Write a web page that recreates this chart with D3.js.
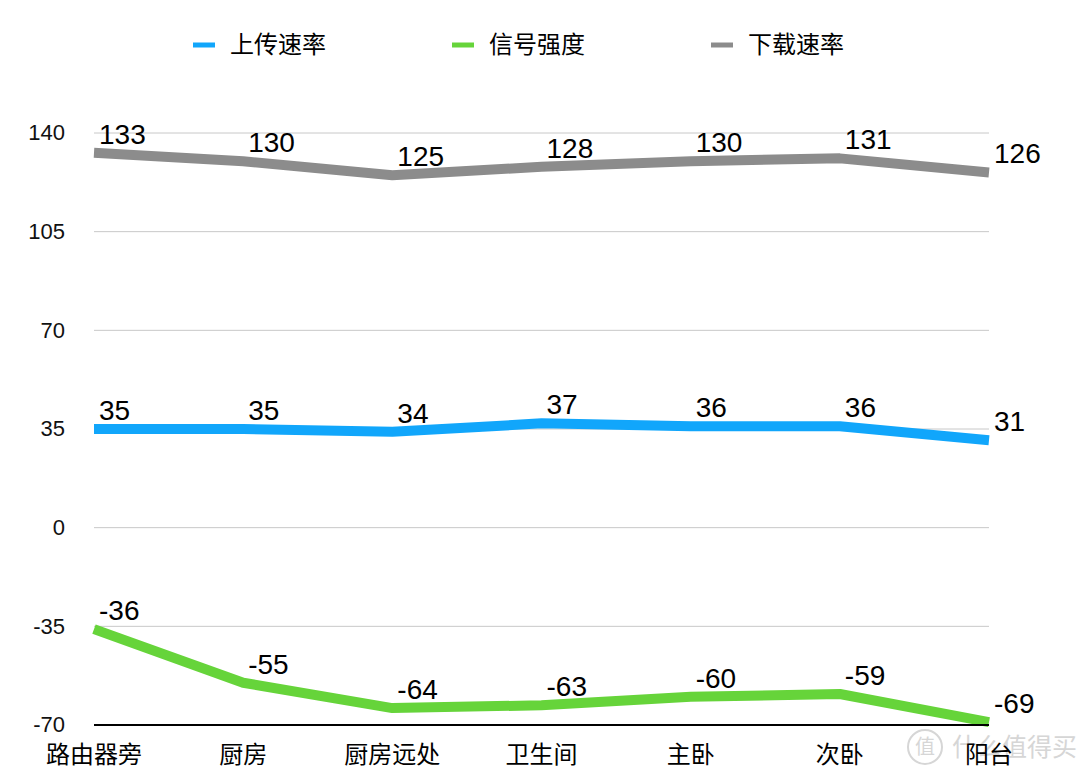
<!DOCTYPE html>
<html>
<head>
<meta charset="utf-8">
<script src="https://cdn.jsdelivr.net/npm/d3@7"></script>
<style>
  body { margin: 0; background: #fff; }
  svg text { font-family: "Liberation Sans", Arial, "Noto Sans CJK SC", sans-serif; }
  .cjk { font-family: "Noto Sans CJK SC", sans-serif; }
</style>
</head>
<body>
<div id="chart"></div>
<script>
const categories = ["路由器旁", "厨房", "厨房远处", "卫生间", "主卧", "次卧", "阳台"];
const uploadRate = [35, 35, 34, 37, 36, 36, 31];
const signalStrength = [-36, -55, -64, -63, -60, -59, -69];
const downloadRate = [133, 130, 125, 128, 130, 131, 126];
const yTicks = [-70, -35, 0, 35, 70, 105, 140];

const series = [
  { name: "上传速率", values: uploadRate, color: "#11a6fb" },
  { name: "信号强度", values: signalStrength, color: "#66d43a" },
  { name: "下载速率", values: downloadRate, color: "#8c8c8c" }
];

const width = 1080, height = 775;
const svg = d3.select("#chart").append("svg")
  .attr("width", width)
  .attr("height", height);

const x = d3.scalePoint().domain(categories).range([94, 989]);
const y = d3.scaleLinear().domain([-70, 140]).range([725, 133]);

// gridlines
svg.append("g")
  .selectAll("line")
  .data(yTicks.filter(d => d !== -70))
  .join("line")
  .attr("x1", x.range()[0])
  .attr("x2", x.range()[1])
  .attr("y1", d => y(d))
  .attr("y2", d => y(d))
  .attr("stroke", "#c8c8c8")
  .attr("stroke-width", 1);

// y labels
svg.append("g")
  .selectAll("text")
  .data(yTicks)
  .join("text")
  .attr("x", 65)
  .attr("y", d => y(d))
  .attr("dy", "0.34em")
  .attr("text-anchor", "end")
  .style("font-size", "22px")
  .attr("fill", "#111")
  .text(d => d);

// lines
const line = d3.line()
  .x((d, i) => x(categories[i]))
  .y(d => y(d));

series.forEach(s => {
  svg.append("path")
    .datum(s.values)
    .attr("fill", "none")
    .attr("stroke", s.color)
    .attr("stroke-width", 10)
    .attr("stroke-linejoin", "round")
    .attr("stroke-linecap", "butt")
    .attr("d", line);
});

// bottom axis line
svg.append("line")
  .attr("x1", x.range()[0])
  .attr("x2", x.range()[1])
  .attr("y1", y(-70))
  .attr("y2", y(-70))
  .attr("stroke", "#000")
  .attr("stroke-width", 2);

// value labels
series.forEach(s => {
  svg.append("g")
    .selectAll("text")
    .data(s.values)
    .join("text")
    .attr("x", (d, i) => x(categories[i]) + 5)
    .attr("y", d => y(d) - 9)
    .style("font-size", "28px")
    .attr("fill", "#000")
    .text(d => d);
});

// watermark
const wm = svg.append("g");
wm.append("circle")
  .attr("cx", 925).attr("cy", 747).attr("r", 17)
  .attr("fill", "none").attr("stroke", "#d6d6d6").attr("stroke-width", 2);
wm.append("text")
  .attr("class", "cjk")
  .attr("x", 925).attr("y", 747).attr("dy", "0.35em")
  .attr("text-anchor", "middle")
  .style("font-size", "20px")
  .attr("fill", "#d6d6d6")
  .text("值");
wm.append("text")
  .attr("class", "cjk")
  .attr("x", 952).attr("y", 747).attr("dy", "0.35em")
  .style("font-size", "25px")
  .attr("fill", "#d6d6d6")
  .text("什么值得买");

// x labels
svg.append("g")
  .selectAll("text")
  .data(categories)
  .join("text")
  .attr("class", "cjk")
  .attr("x", d => x(d))
  .attr("y", 755)
  .attr("dy", "0.35em")
  .attr("text-anchor", "middle")
  .style("font-size", "24px")
  .attr("fill", "#000")
  .text(d => d);

// legend
const legendX = [193, 452, 711];
const legend = svg.append("g")
  .selectAll("g")
  .data(series)
  .join("g")
  .attr("transform", (d, i) => `translate(${legendX[i]},45)`);
legend.append("line")
  .attr("x1", 0).attr("x2", 22)
  .attr("stroke", d => d.color)
  .attr("stroke-width", 5);
legend.append("text")
  .attr("class", "cjk")
  .attr("x", 37)
  .attr("dy", "0.35em")
  .style("font-size", "24px")
  .attr("fill", "#000")
  .text(d => d.name);
</script>
</body>
</html>
